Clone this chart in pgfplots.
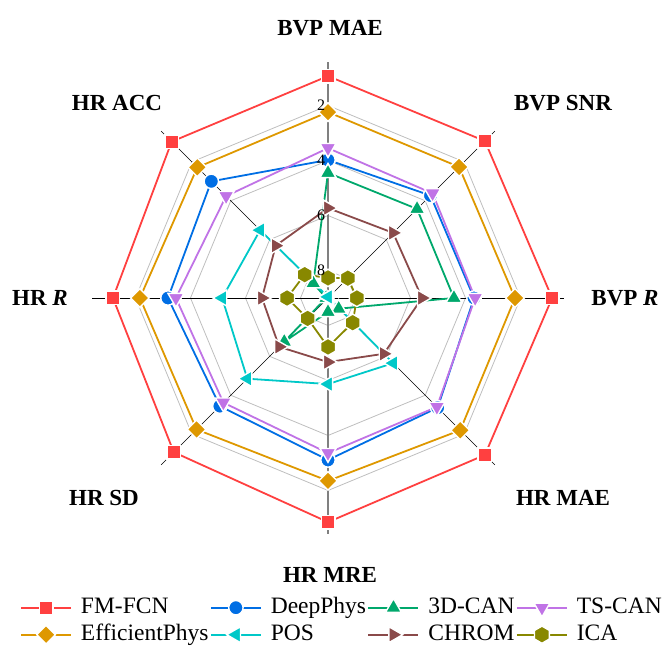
\documentclass[border=0pt]{standalone}
\usepackage{pgfplots}
\pgfplotsset{compat=1.18}
\usepackage{pgfplotstable}
\usepackage{fontspec}
\setmainfont{Liberation Serif}

\definecolor{cFM}{RGB}{255,64,64}
\definecolor{cDeep}{RGB}{0,110,228}
\definecolor{cCAN}{RGB}{0,168,108}
\definecolor{cTS}{RGB}{192,115,230}
\definecolor{cEff}{RGB}{222,152,0}
\definecolor{cPOS}{RGB}{0,200,200}
\definecolor{cCHROM}{RGB}{138,74,74}
\definecolor{cICA}{RGB}{136,136,0}
\definecolor{cGrid}{RGB}{190,190,190}

% filled hexagon with a pointed top
\pgfdeclareplotmark{hexagon*}{%
  \pgfpathmoveto{\pgfqpointpolar{90}{\pgfplotmarksize}}%
  \pgfpathlineto{\pgfqpointpolar{150}{\pgfplotmarksize}}%
  \pgfpathlineto{\pgfqpointpolar{210}{\pgfplotmarksize}}%
  \pgfpathlineto{\pgfqpointpolar{270}{\pgfplotmarksize}}%
  \pgfpathlineto{\pgfqpointpolar{330}{\pgfplotmarksize}}%
  \pgfpathlineto{\pgfqpointpolar{30}{\pgfplotmarksize}}%
  \pgfpathclose
  \pgfusepathqfillstroke}

% scores on each metric axis (angle in degrees); first row repeated to close the polygon
\pgfplotstableread{
a     fm    deep  cand  ts    eff   pos   chrom ica
90    0.93  3.98  4.45  3.55  2.24  8.96  5.73  8.27
45    0.93  3.73  4.42  3.62  2.26  8.93  5.65  7.98
0     0.85  3.69  4.42  3.65  2.20  8.96  5.58  7.95
-45   0.93  3.36  8.45  3.40  2.20  5.65  6.13  7.73
-90   0.85  3.11  8.49  3.36  2.35  5.87  6.67  7.22
-135  1.07  3.44  6.75  3.62  2.24  4.85  6.49  7.95
-180  1.18  3.18  8.93  3.47  2.16  5.15  6.60  7.51
-225  0.96  3.00  8.24  3.76  2.28  5.51  6.31  7.80
-270  0.93  3.98  4.45  3.55  2.24  8.96  5.73  8.27
}\scores

\pgfplotsset{
  radar/.style={color=#1, line width=1.8pt,
    mark options={solid, fill=#1, draw=white, line width=1.4pt}},
  legend image code/.code={%
    \draw[#1, mark repeat=2, mark phase=2]
      plot coordinates {(0pt,0pt) (25pt,0pt) (50pt,0pt)};},
}

\begin{document}
\begin{tikzpicture}
\useasboundingbox (0pt,0pt) rectangle (662pt,646pt);
\begin{axis}[
  at={(0pt,0pt)}, anchor=south west,
  x=27.5pt, y=27.5pt,
  xmin=-11.9273, xmax=12.1455, ymin=-12.6545, ymax=10.8364,
  hide axis, clip=false,
  data cs=polar,
  legend columns=4,
  legend cell align=left,
  legend style={
    at={(axis description cs:0.0302,0.0774)}, anchor=north west,
    draw=none, fill=none, inner sep=0pt,
    font=\fontsize{23.5}{26}\selectfont,
    nodes={inner xsep=0pt, inner ysep=1pt, text height=16pt, text depth=5pt},
    /tikz/every odd column/.append style={column sep=9pt},
    /tikz/every even column/.append style={column sep=1.5pt},
    row sep=4pt,
  },
]
% octagonal grid at 8, 6, 4, 2
\foreach \r in {1,3,5,7} {
  \addplot[cGrid, line width=0.8pt, forget plot] coordinates
    {(90,\r) (45,\r) (0,\r) (-45,\r) (-90,\r) (-135,\r) (-180,\r) (-225,\r) (-270,\r)};
}
% spokes
\addplot[black, line width=0.7pt, forget plot] coordinates {(0,8.58) (180,8.58)};
\addplot[black, line width=0.7pt, forget plot] coordinates {(45,8.58) (225,8.58)};
\addplot[black, line width=0.7pt, forget plot] coordinates {(135,8.58) (315,8.58)};
\addplot[gray, line width=1.5pt, forget plot] coordinates {(90,8.58) (270,8.58)};

\addplot[radar=cFM, mark=square*, mark size=6.8pt]
  table[x=a, y expr=9-\thisrow{fm}] {\scores};
\addlegendentry{FM-FCN}
\addplot[radar=cDeep, mark=*, mark size=7.2pt]
  table[x=a, y expr=9-\thisrow{deep}] {\scores};
\addlegendentry{DeepPhys}
\addplot[radar=cCAN, mark=triangle*, mark size=9.2pt]
  table[x=a, y expr=9-\thisrow{cand}] {\scores};
\addlegendentry{3D-CAN}
\addplot[radar=cTS, mark=triangle*, mark size=9.2pt,
  every mark/.append style={rotate=180}]
  table[x=a, y expr=9-\thisrow{ts}] {\scores};
\addlegendentry{TS-CAN}
\addplot[radar=cEff, mark=square*, mark size=6.6pt,
  every mark/.append style={rotate=45}]
  table[x=a, y expr=9-\thisrow{eff}] {\scores};
\addlegendentry{EfficientPhys}
\addplot[radar=cPOS, mark=triangle*, mark size=9.2pt,
  every mark/.append style={rotate=90}]
  table[x=a, y expr=9-\thisrow{pos}] {\scores};
\addlegendentry{POS}
\addplot[radar=cCHROM, mark=triangle*, mark size=9.2pt,
  every mark/.append style={rotate=-90}]
  table[x=a, y expr=9-\thisrow{chrom}] {\scores};
\addlegendentry{CHROM}
\addplot[radar=cICA, mark=hexagon*, mark size=8.6pt]
  table[x=a, y expr=9-\thisrow{ica}] {\scores};
\addlegendentry{ICA}
\end{axis}

% radial tick labels along the upper spoke
\begin{scope}[every node/.style={font=\fontsize{16}{18}\selectfont}]
\node at (321pt,540.5pt) {2};
\node at (321pt,485.5pt) {4};
\node at (321pt,430.5pt) {6};
\node at (321pt,375.5pt) {8};
\end{scope}

% metric names
\begin{scope}[every node/.style={font=\fontsize{23}{26}\selectfont\bfseries}]
\node at (330pt,618pt) {BVP MAE};
\node at (563pt,543pt) {BVP SNR};
\node at (625pt,348pt) {BVP \textit{R}};
\node at (563pt,148pt) {HR MAE};
\node at (330pt,71pt) {HR MRE};
\node at (104pt,148pt) {HR SD};
\node at (40pt,348pt) {HR \textit{R}};
\node at (117pt,543pt) {HR ACC};
\end{scope}
\end{tikzpicture}
\end{document}
